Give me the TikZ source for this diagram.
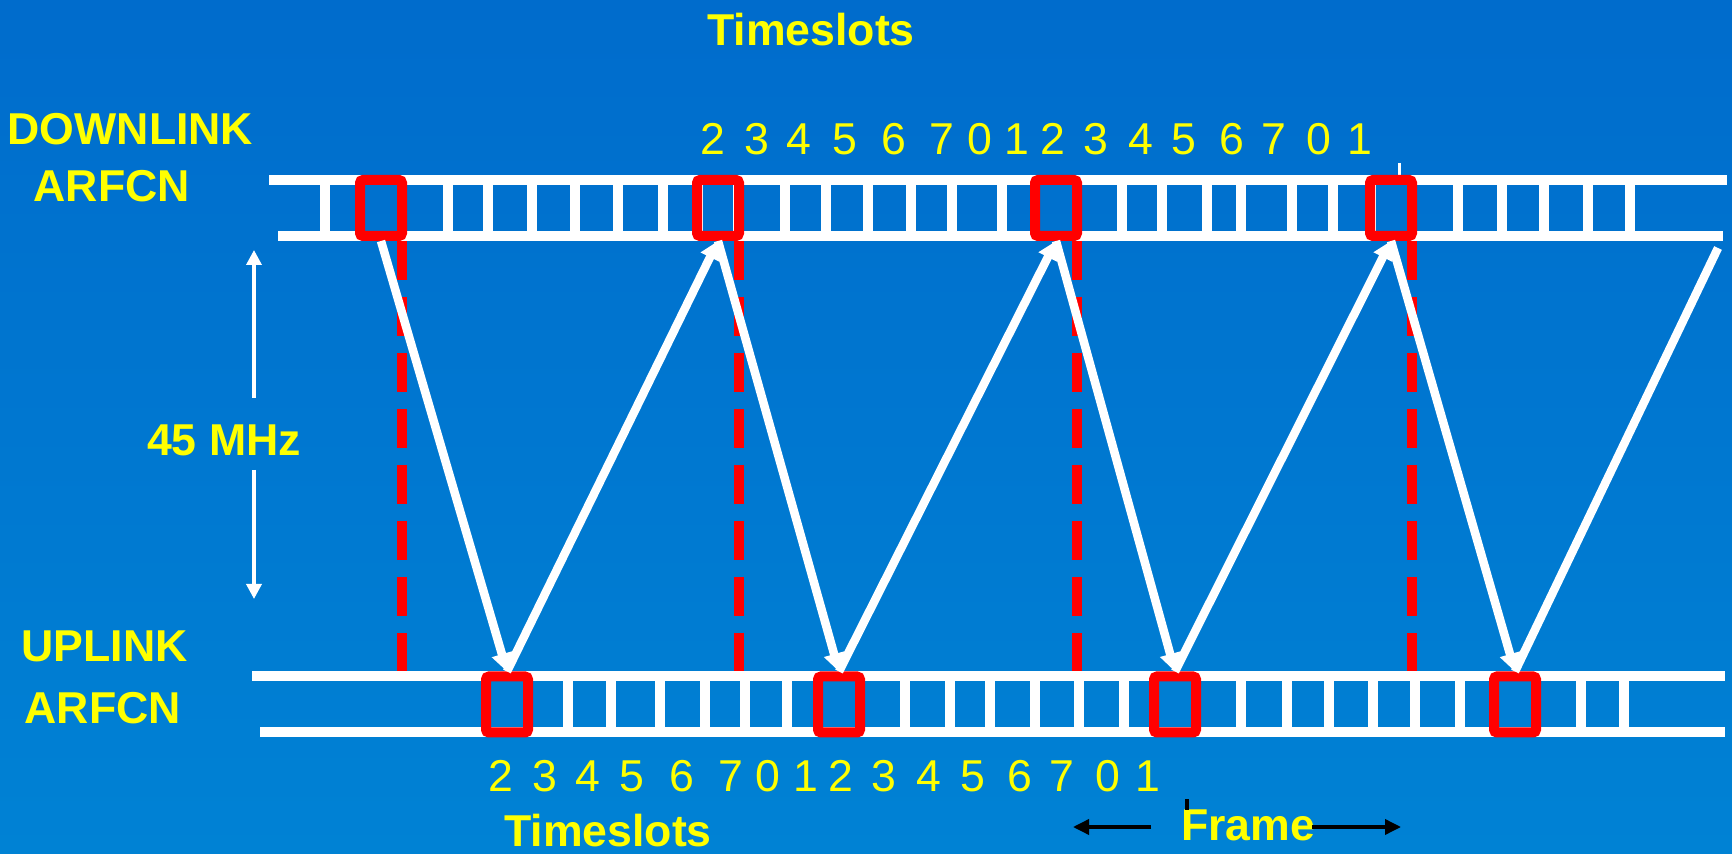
\documentclass[tikz,border=0pt]{standalone}
\usepackage{fontspec}
\setmainfont{Liberation Sans}
\usepackage{tikz}
\usetikzlibrary{arrows.meta,calc}
\definecolor{skytop}{RGB}{0,108,204}
\definecolor{skybot}{RGB}{0,130,212}
\definecolor{lblyellow}{RGB}{255,255,0}
\newcommand{\slidefont}{\fontsize{12.7}{15}\selectfont}

\begin{document}
\begin{tikzpicture}[x=0.1mm,y=-0.1mm,
    lbl/.style={text=lblyellow,font=\slidefont\bfseries,inner sep=0},
    num/.style={text=lblyellow,font=\slidefont,inner sep=0,anchor=base},
    rail/.style={white,line width=1mm},
    slotbox/.style={draw=red,line width=1mm,rounded corners=0.3mm,
                    minimum width=4.2mm,minimum height=5.6mm,inner sep=0},
    sig/.style={white,line width=0.85mm,-{Triangle[length=1.8mm,width=2mm]}},
    cut/.style={red,line width=1mm,dash pattern=on 3.9mm off 1.7mm},
    mhzarrow/.style={white,line width=0.35mm,-{Triangle[length=1.5mm,width=1.5mm]}},
    framearrow/.style={black,line width=0.35mm,-{Triangle[length=1.6mm,width=1.5mm]}}]
  \shade[top color=skytop,bottom color=skybot] (0,0) rectangle (1732,854);
  \useasboundingbox (0,0) rectangle (1732,854);

  % downlink ladder
  \draw[rail] (269,180) -- (1727,180);
  \draw[rail] (278,236) -- (1723,236);
  \foreach \x in {325,360,402,448,488,532,575,618,663,698,738,785,826,868,911,
                  952,1002,1035,1077,1122,1162,1207,1241,1292,1333,1371,1412,
                  1458,1502,1544,1588,1630}
    \draw[rail] (\x,180) -- (\x,236);
  \draw[white,line width=0.3mm] (1399,163) -- (1399,175);

  % uplink ladder
  \draw[rail] (252,676.5) -- (1725,676.5);
  \draw[rail] (260,732.5) -- (1725,732.5);
  \foreach \x in {486,528,568,611,660,705,745,787,818,860,905,950,990,1035,
                  1079,1124,1154,1196,1241,1287,1329,1373,1415,1460,1494,1536,
                  1581,1624}
    \draw[rail] (\x,676.5) -- (\x,732.5);

  % used timeslots
  \foreach \i/\x in {1/381,2/718,3/1056,4/1391}
    \node[slotbox] (dl\i) at (\x,208) {};
  \foreach \i/\x in {1/507,2/839,3/1175,4/1515}
    \node[slotbox] (ul\i) at (\x,704.5) {};

  % three-slot offset markers
  \foreach \i in {1,...,4}
    \draw[cut] ([xshift=-.5mm]dl\i.south east)
      -- ([xshift=-.5mm]dl\i.south east |- ul1.north);

  % downlink -> uplink -> next downlink
  \draw[sig] (dl1.south) -- (ul1.north);
  \draw[sig] (ul1.north) -- (dl2.south);
  \draw[sig] (dl2.south) -- (ul2.north);
  \draw[sig] (ul2.north) -- (dl3.south);
  \draw[sig] (dl3.south) -- (ul3.north);
  \draw[sig] (ul3.north) -- (dl4.south);
  \draw[sig] (dl4.south) -- (ul4.north);
  \coordinate (dlend) at (1718,248);
  \draw[white,line width=0.85mm] (ul4.north) -- (dlend);

  % timeslot numbers
  \foreach \x/\d [count=\k] in {713/2,757/3,799/4,845/5,894/6,942/7,980/0,
                                1017/1,1053/2,1096/3,1141/4,1184/5,1232/6,
                                1274/7,1319/0,1360/1}
    \node[num] (dn\k) at (\x,155) {\d};
  \foreach \x/\d [count=\k] in {501/2,545/3,588/4,632/5,682/6,731/7,768/0,
                                806/1,841/2,884/3,929/4,973/5,1020/6,
                                1062/7,1108/0,1148/1}
    \node[num] (un\k) at (\x,792) {\d};

  % labels
  \node[lbl,anchor=base] (tstop) at (811,46) {Timeslots};
  \node[lbl,anchor=base west] (dlname) at (7,145) {DOWNLINK};
  \node[lbl,anchor=base west] (dlarfcn) at (33,202) {ARFCN};
  \node[lbl,anchor=base west] (ulname) at (21,661) {UPLINK};
  \node[lbl,anchor=base west] (ularfcn) at (24,723) {ARFCN};
  \node[lbl,anchor=base] (mhz) at (224,456) {45 MHz};
  \node[lbl,anchor=base] (tsbot) at (608,846) {Timeslots};
  \node[lbl,anchor=base] (frame) at (1248,840) {Frame};

  % duplex spacing
  \coordinate (mtop) at (254,250);
  \coordinate (mbot) at (254,599);
  \draw[mhzarrow] (254,398) -- (mtop);
  \draw[mhzarrow] (254,470) -- (mbot);

  % frame length
  \coordinate (fl) at (1073,827);
  \coordinate (fr) at (1401,827);
  \draw[framearrow] (1151,827) -- (fl);
  \draw[framearrow] (1312,827) -- (fr);
  \draw[black,line width=0.35mm] (1187,799) -- (1187,810);
\end{tikzpicture}
\end{document}
